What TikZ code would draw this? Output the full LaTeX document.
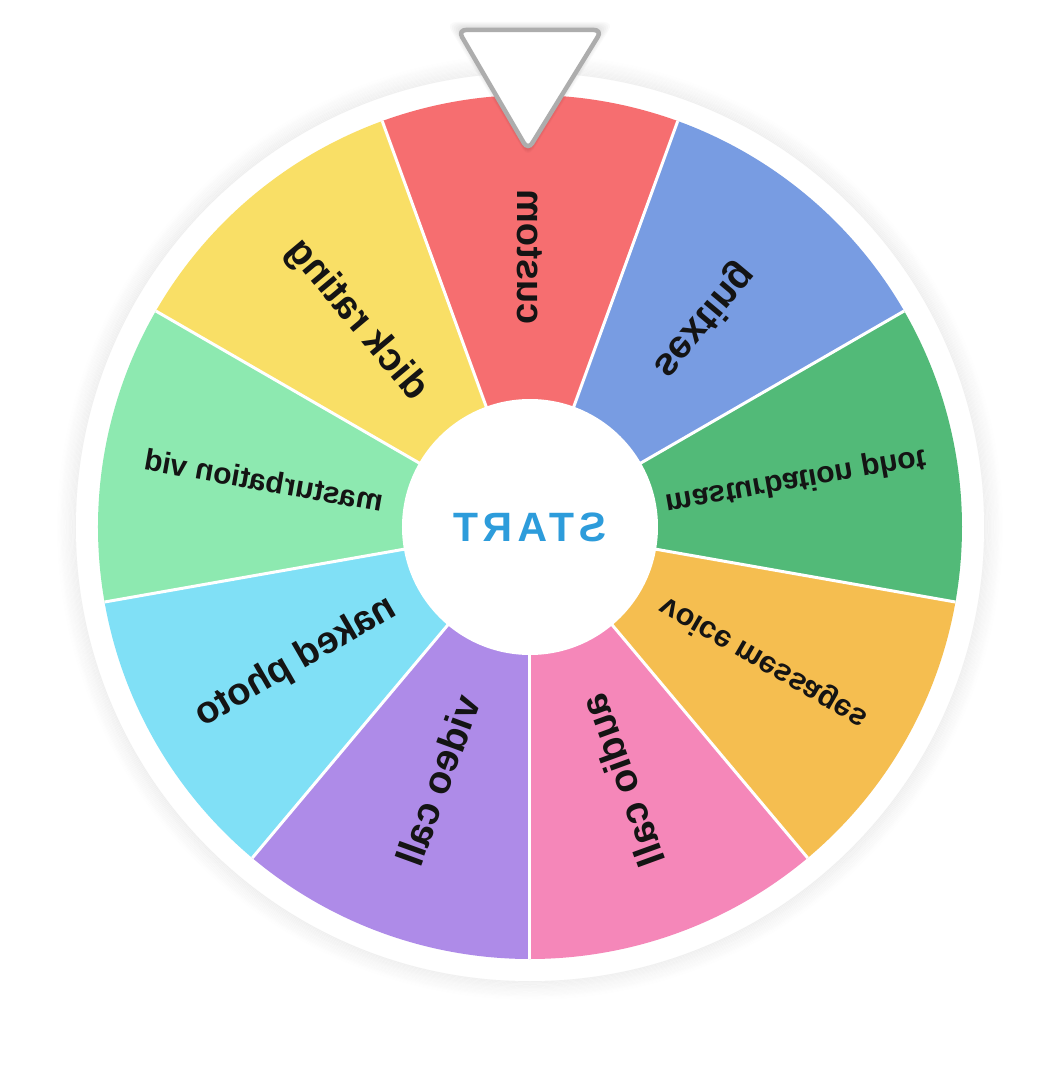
\documentclass[tikz,border=0pt]{standalone}
\usepackage{fontspec}
\setmainfont{Liberation Sans}
\definecolor{segred}{HTML}{F66E70}
\definecolor{segblue}{HTML}{789CE2}
\definecolor{seggreen}{HTML}{52BA78}
\definecolor{segorange}{HTML}{F5BE50}
\definecolor{segpink}{HTML}{F587B9}
\definecolor{segpurple}{HTML}{AE8BE8}
\definecolor{segcyan}{HTML}{80E0F6}
\definecolor{seglight}{HTML}{8DE9B0}
\definecolor{segyellow}{HTML}{F9DF66}
\definecolor{startblue}{HTML}{2D9CDB}
\tikzset{
  segtext/.style={text=black!92, inner sep=0pt, transform shape},
  starttext/.style={text=startblue, inner sep=0pt, transform shape,
    font=\fontsize{41}{41}\selectfont\bfseries\addfontfeatures{LetterSpace=12}}
}
\begin{document}
\begin{tikzpicture}[x=1pt, y=1pt]

\useasboundingbox (-530,-553) rectangle (528,527);

% soft shadow and rim
\foreach \i in {1,...,16} {\draw[black, opacity={0.045*(17-\i)/16}, line width=1.4] (0,0) circle (453+\i*1.2);}
\fill[white] (0,0) circle (454);

% the wheel, seen in a mirror
\begin{scope}[xscale=-1]
\foreach \a/\c in {90/segred, 130/segblue, 170/seggreen, 210/segorange, 250/segpink, 290/segpurple, 330/segcyan, 370/seglight, 410/segyellow} {\fill[\c] (0,0) -- (\a-20:432) arc (\a-20:\a+20:432) -- cycle;}
\foreach \a in {70,110,...,390} {\draw[white, line width=3] (0,0) -- (\a:432);}
\fill[white] (0,0) circle (128);
\foreach \a/\t/\s [count=\n] in {90/custom/38, 130/sexting/39, 170/masturbation phot/30, 210/voice messages/30.5, 250/audio call/39, 290/video call/39, 330/naked photo/38, 10/masturbation vid/30, 50/dick rating/39} {\node[segtext, rotate=\a, font=\fontsize{\s}{\s}\selectfont\bfseries] (seg\n) at (\a:270) {\t};}
\node[starttext] (start) at (0,0) {START};
\end{scope}

% pointer
\foreach \i in {1,...,6} {\fill[black, opacity=0.02, rounded corners=10] (-72-\i*2,499+\i) -- (72+\i*2,499+\i) -- (-2,375-\i) -- cycle;}
\draw[black!32, line width=4.5, fill=white, rounded corners=8] (-72,497) -- (72,497) -- (-2,377) -- cycle;

\end{tikzpicture}
\end{document}
